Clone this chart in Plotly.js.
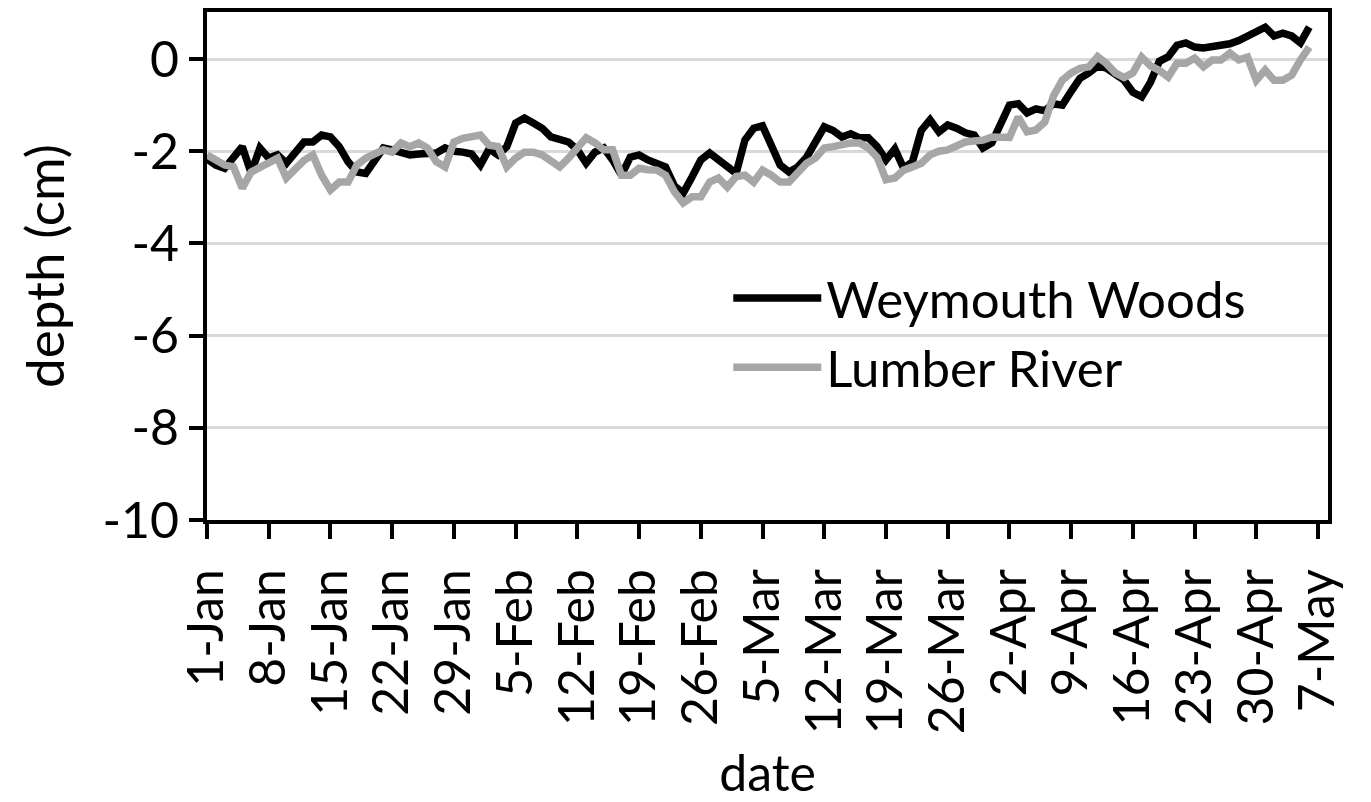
<!DOCTYPE html>
<html>
<head>
<meta charset="utf-8">
<script src="https://cdn.plot.ly/plotly-3.0.1.min.js"></script>
<style>html,body{margin:0;padding:0;background:#fff;}#chart{width:1371px;height:802px;}</style>
</head>
<body>
<div id="chart"></div>
<script>
var dates = [
"2017-01-01","2017-01-02","2017-01-03","2017-01-04","2017-01-05","2017-01-06","2017-01-07","2017-01-08","2017-01-09","2017-01-10",
"2017-01-11","2017-01-12","2017-01-13","2017-01-14","2017-01-15","2017-01-16","2017-01-17","2017-01-18","2017-01-19","2017-01-20",
"2017-01-21","2017-01-22","2017-01-23","2017-01-24","2017-01-25","2017-01-26","2017-01-27","2017-01-28","2017-01-29","2017-01-30",
"2017-01-31","2017-02-01","2017-02-02","2017-02-03","2017-02-04","2017-02-05","2017-02-06","2017-02-07","2017-02-08","2017-02-09",
"2017-02-10","2017-02-11","2017-02-12","2017-02-13","2017-02-14","2017-02-15","2017-02-16","2017-02-17","2017-02-18","2017-02-19",
"2017-02-20","2017-02-21","2017-02-22","2017-02-23","2017-02-24","2017-02-25","2017-02-26","2017-02-27","2017-02-28","2017-03-01",
"2017-03-02","2017-03-03","2017-03-04","2017-03-05","2017-03-06","2017-03-07","2017-03-08","2017-03-09","2017-03-10","2017-03-11",
"2017-03-12","2017-03-13","2017-03-14","2017-03-15","2017-03-16","2017-03-17","2017-03-18","2017-03-19","2017-03-20","2017-03-21",
"2017-03-22","2017-03-23","2017-03-24","2017-03-25","2017-03-26","2017-03-27","2017-03-28","2017-03-29","2017-03-30","2017-03-31",
"2017-04-01","2017-04-02","2017-04-03","2017-04-04","2017-04-05","2017-04-06","2017-04-07","2017-04-08","2017-04-09","2017-04-10",
"2017-04-11","2017-04-12","2017-04-13","2017-04-14","2017-04-15","2017-04-16","2017-04-17","2017-04-18","2017-04-19","2017-04-20",
"2017-04-21","2017-04-22","2017-04-23","2017-04-24","2017-04-25","2017-04-26","2017-04-27","2017-04-28","2017-04-29","2017-04-30",
"2017-05-01","2017-05-02","2017-05-03","2017-05-04","2017-05-05","2017-05-06"
];

var weymouthWoods = [
-2.17,-2.30,-2.37,-2.15,-1.90,-2.47,-1.93,-2.15,-2.08,-2.26,
-2.04,-1.80,-1.80,-1.65,-1.69,-1.90,-2.23,-2.45,-2.48,-2.20,
-1.93,-1.97,-2.04,-2.08,-2.06,-2.04,-2.04,-1.93,-2.00,-2.02,
-2.06,-2.30,-1.95,-2.08,-1.90,-1.39,-1.28,-1.39,-1.50,-1.69,
-1.73,-1.80,-1.97,-2.26,-2.02,-1.93,-2.19,-2.52,-2.13,-2.08,
-2.19,-2.26,-2.34,-2.75,-2.91,-2.56,-2.19,-2.04,-2.19,-2.37,
-2.48,-1.76,-1.50,-1.45,-1.90,-2.30,-2.45,-2.34,-2.13,-1.82,
-1.47,-1.55,-1.69,-1.62,-1.71,-1.71,-1.90,-2.19,-1.95,-2.37,
-2.23,-1.55,-1.32,-1.58,-1.43,-1.50,-1.60,-1.65,-1.93,-1.82,
-1.45,-1.00,-0.97,-1.17,-1.08,-1.12,-0.97,-1.00,-0.70,-0.42,
-0.30,-0.15,-0.20,-0.32,-0.46,-0.72,-0.82,-0.50,-0.05,0.05,
0.30,0.35,0.26,0.24,0.26,0.30,0.33,0.40,0.50,0.60,
0.69,0.50,0.56,0.50,0.35,0.69
];

var lumberRiver = [
-2.08,-2.20,-2.30,-2.34,-2.80,-2.45,-2.34,-2.23,-2.15,-2.58,
-2.37,-2.20,-2.08,-2.52,-2.84,-2.67,-2.67,-2.30,-2.15,-2.04,
-1.97,-2.02,-1.82,-1.90,-1.82,-1.93,-2.23,-2.34,-1.80,-1.72,
-1.67,-1.65,-1.87,-1.90,-2.34,-2.15,-2.02,-2.02,-2.08,-2.20,
-2.34,-2.15,-1.93,-1.71,-1.82,-1.97,-1.97,-2.52,-2.52,-2.37,
-2.40,-2.41,-2.52,-2.88,-3.12,-2.99,-2.99,-2.67,-2.58,-2.78,
-2.55,-2.52,-2.67,-2.41,-2.52,-2.67,-2.67,-2.45,-2.26,-2.15,
-1.93,-1.90,-1.85,-1.82,-1.82,-1.93,-2.13,-2.62,-2.58,-2.41,
-2.34,-2.26,-2.08,-2.00,-1.97,-1.87,-1.80,-1.78,-1.76,-1.69,
-1.69,-1.70,-1.26,-1.58,-1.54,-1.37,-0.80,-0.46,-0.30,-0.20,
-0.17,0.05,-0.10,-0.30,-0.40,-0.30,0.04,-0.15,-0.25,-0.39,
-0.09,-0.09,0.02,-0.17,-0.02,-0.02,0.13,-0.02,0.04,-0.46,
-0.24,-0.46,-0.46,-0.35,-0.02,0.26
];

var seriesNames = ["Weymouth Woods", "Lumber River"];

var xTickVals = ["2017-01-01","2017-01-08","2017-01-15","2017-01-22","2017-01-29","2017-02-05","2017-02-12","2017-02-19","2017-02-26","2017-03-05","2017-03-12","2017-03-19","2017-03-26","2017-04-02","2017-04-09","2017-04-16","2017-04-23","2017-04-30","2017-05-07"];
var xTickText = ["1-Jan","8-Jan","15-Jan","22-Jan","29-Jan","5-Feb","12-Feb","19-Feb","26-Feb","5-Mar","12-Mar","19-Mar","26-Mar","2-Apr","9-Apr","16-Apr","23-Apr","30-Apr","7-May"];
var yTickVals = [-10,-8,-6,-4,-2,0];
var yTickText = ["-10","-8","-6","-4","-2","0"];

var FONT = "Lato, 'Open Sans', sans-serif";

var traces = [
  {x: dates, y: weymouthWoods, name: seriesNames[0], type: "scatter", mode: "lines",
   line: {color: "#000000", width: 7.5}},
  {x: dates, y: lumberRiver, name: seriesNames[1], type: "scatter", mode: "lines",
   line: {color: "#a6a6a6", width: 7.5}}
];

var layout = {
  width: 1371, height: 802,
  margin: {l: 207, r: 43, t: 12, b: 282},
  paper_bgcolor: "#ffffff", plot_bgcolor: "#ffffff",
  font: {family: FONT, color: "#000000", size: 50},
  showlegend: true,
  legend: {x: 0.465, y: 0.515, xanchor: "left", yanchor: "top",
           font: {family: FONT, size: 51, color: "#000"}, bgcolor: "rgba(0,0,0,0)",
           tracegroupgap: 0, itemwidth: 88},
  xaxis: {
    type: "date",
    range: ["2017-01-01", "2017-05-08 03:00"],
    tickvals: xTickVals, ticktext: xTickText, tickangle: -90,
    tickfont: {family: FONT, size: 50}, ticklabelstandoff: 10,
    ticks: "outside", ticklen: 15, tickwidth: 4, tickcolor: "#000",
    showline: true, linecolor: "#000", linewidth: 4, mirror: true,
    showgrid: false, zeroline: false,
    title: {text: "date", font: {family: FONT, size: 50}, standoff: 26}
  },
  yaxis: {
    range: [-10, 1.02],
    tickvals: yTickVals, ticktext: yTickText,
    tickfont: {family: FONT, size: 50},
    ticks: "outside", ticklen: 14, tickwidth: 4, tickcolor: "#000",
    showline: true, linecolor: "#000", linewidth: 4, mirror: true,
    showgrid: true, gridcolor: "#d9d9d9", gridwidth: 3, zeroline: false,
    title: {text: "depth (cm)", font: {family: FONT, size: 53}, standoff: 22}
  }
};

Plotly.newPlot("chart", traces, layout, {displayModeBar: false, staticPlot: true});
</script>
</body>
</html>
